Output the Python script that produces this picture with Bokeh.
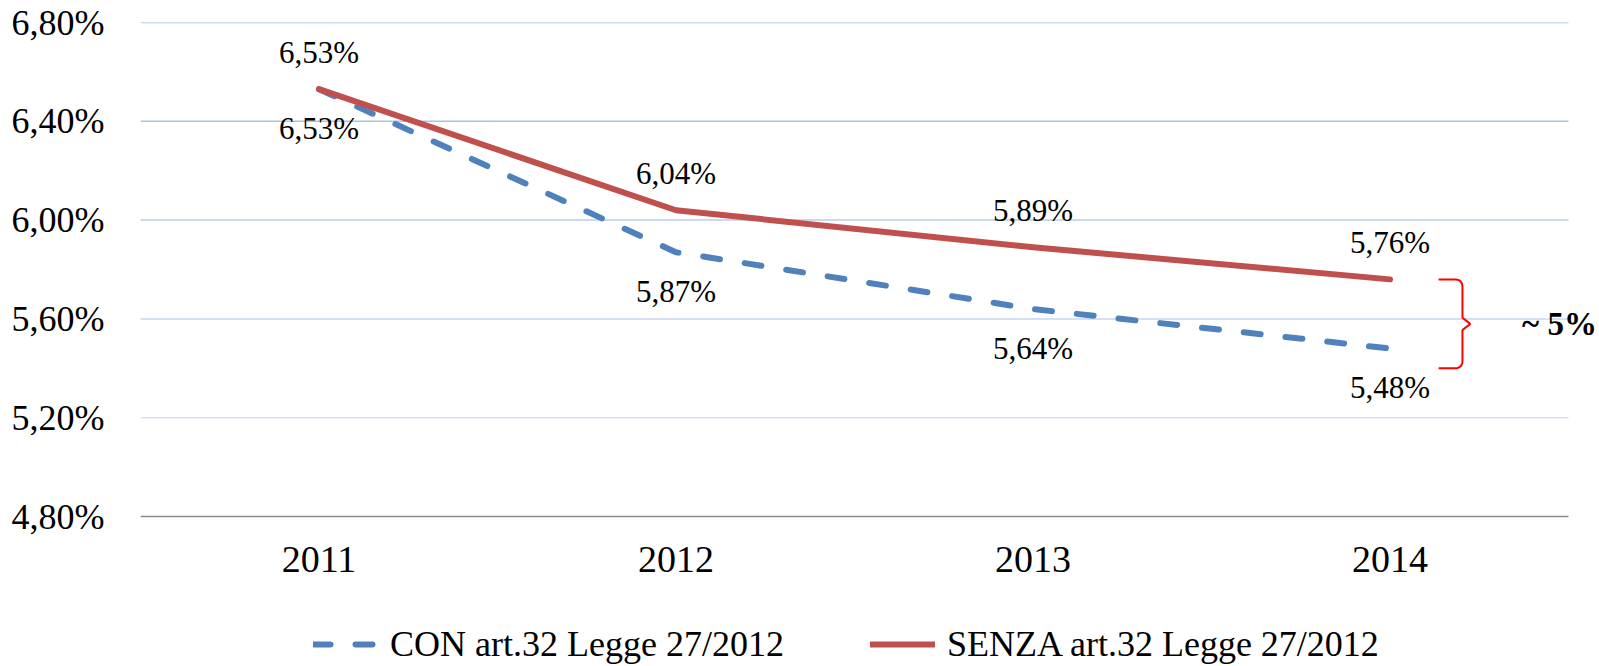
import numpy as np
from bokeh.plotting import figure
from bokeh.models import (Range1d, FixedTicker, Legend, LegendItem,
                          ColumnDataSource, CustomJSTickFormatter)
from bokeh.embed import file_html
from bokeh.resources import INLINE
from bokeh.core.properties import value

# ---- data ----
years = ["2011", "2012", "2013", "2014"]
con = [6.53, 5.87, 5.64, 5.48]
senza = [6.53, 6.04, 5.89, 5.76]
y_ticks = [4.80, 5.20, 5.60, 6.00, 6.40, 6.80]
con_name = "CON art.32 Legge 27/2012"
senza_name = "SENZA art.32 Legge 27/2012"
gap_label = "~ 5%"
brace_bottom = 5.40

# ---- styles / geometry ----
FONT = "Liberation Serif"
BLUE = "#4F81BD"
RED = "#C0504D"
grid_colors = ["#888888", "#d8e2f5", "#c8d6f1", "#b9cbee", "#abc1eb", "#9fb8e8"]

W, H = 1599, 666
LEFT, TOP = 140, 22
AREA_W, AREA_H = 1428, 494            # plot area (gridline box)
n = len(years)
x = [i + 0.5 for i in range(n)]
x_end = n * (W - LEFT) / AREA_W       # frame extends right to hold the "~ 5%" note
y_span = y_ticks[-1] - y_ticks[0]
y_start = y_ticks[0] - y_span * (H - TOP - AREA_H) / AREA_H   # frame extends down to hold x labels + legend

def fmt(v):
    return f"{v:.2f}".replace(".", ",") + "%"

p = figure(width=W, height=H, x_range=Range1d(0, x_end), y_range=Range1d(y_start, y_ticks[-1]),
           output_backend="svg", toolbar_location=None,
           min_border_left=LEFT, min_border_right=0, min_border_top=TOP, min_border_bottom=0)
p.outline_line_color = None
p.xgrid.visible = False
p.ygrid.visible = False
p.xaxis.visible = False

# horizontal gridlines (and base line) across the plot area only
p.segment(x0=[0] * len(y_ticks), x1=[n] * len(y_ticks), y0=y_ticks, y1=y_ticks,
          line_color=grid_colors, line_width=1.5)

# y axis
p.yaxis.ticker = FixedTicker(ticks=y_ticks)
p.yaxis.formatter = CustomJSTickFormatter(code="return tick.toFixed(2).replace('.', ',') + '%';")
p.yaxis.axis_line_color = None
p.yaxis.major_tick_line_color = None
p.yaxis.minor_tick_line_color = None
p.yaxis.major_tick_out = 0
p.yaxis.major_label_standoff = 36
p.yaxis.major_label_text_font = FONT
p.yaxis.major_label_text_font_size = "36px"
p.yaxis.major_label_text_color = "black"

# category labels under the base line
p.text(x=x, y=[y_ticks[0]] * n, text=years, y_offset=43, text_align="center", text_baseline="middle",
       text_font=value(FONT), text_font_size="38px", text_color="black")

# lines
r_con = p.line(x, con, line_color=BLUE, line_width=6, line_dash="17 25", line_cap="round")
r_senza = p.line(x, senza, line_color=RED, line_width=6, line_cap="round", line_join="round")

# data labels
src_c = ColumnDataSource(dict(x=x, y=con, t=[fmt(v) for v in con]))
src_s = ColumnDataSource(dict(x=x, y=senza, t=[fmt(v) for v in senza]))
p.text("x", "y", text="t", source=src_c, y_offset=39, text_align="center", text_baseline="middle",
       text_font=value(FONT), text_font_size="31px", text_color="black")
p.text("x", "y", text="t", source=src_s, y_offset=-37, text_align="center", text_baseline="middle",
       text_font=value(FONT), text_font_size="31px", text_color="black")

# brace annotation
top = senza[-1]
bot = brace_bottom
mid = (top + bot) / 2
x0, xv, xp = 3.636, 3.703, 3.725
rx, ry = 0.022, 0.032

def quad(p0, c, p1, k=12):
    t = np.linspace(0, 1, k)
    return ((1 - t) ** 2 * p0[0] + 2 * (1 - t) * t * c[0] + t ** 2 * p1[0],
            (1 - t) ** 2 * p0[1] + 2 * (1 - t) * t * c[1] + t ** 2 * p1[1])

bx, by = [x0], [top]
qx, qy = quad((xv - rx, top), (xv, top), (xv, top - ry))
bx += list(qx); by += list(qy)
bx += [xv, xp, xv]; by += [mid + 0.025, mid, mid - 0.025]
qx, qy = quad((xv, bot + ry), (xv, bot), (xv - rx, bot))
bx += list(qx); by += list(qy)
bx += [x0]; by += [bot]
p.line(bx, by, line_color="red", line_width=2)

p.text(x=[3.87], y=[mid], text=[gap_label], text_font=value(FONT), text_font_size="33px",
       text_font_style="bold", text_baseline="middle", text_align="left", text_color="black")

legend = Legend(items=[LegendItem(label=con_name, renderers=[r_con]),
                       LegendItem(label=senza_name, renderers=[r_senza])],
                orientation="horizontal", location=(173, 1),
                glyph_width=65, glyph_height=36, label_height=36, label_standoff=12, spacing=86,
                padding=0, margin=0, border_line_color=None, background_fill_alpha=0,
                label_text_font=FONT, label_text_font_size="36px", label_text_color="black",
                label_text_baseline="middle")
p.add_layout(legend, "center")

open("out.html", "w").write(file_html(p, INLINE))
